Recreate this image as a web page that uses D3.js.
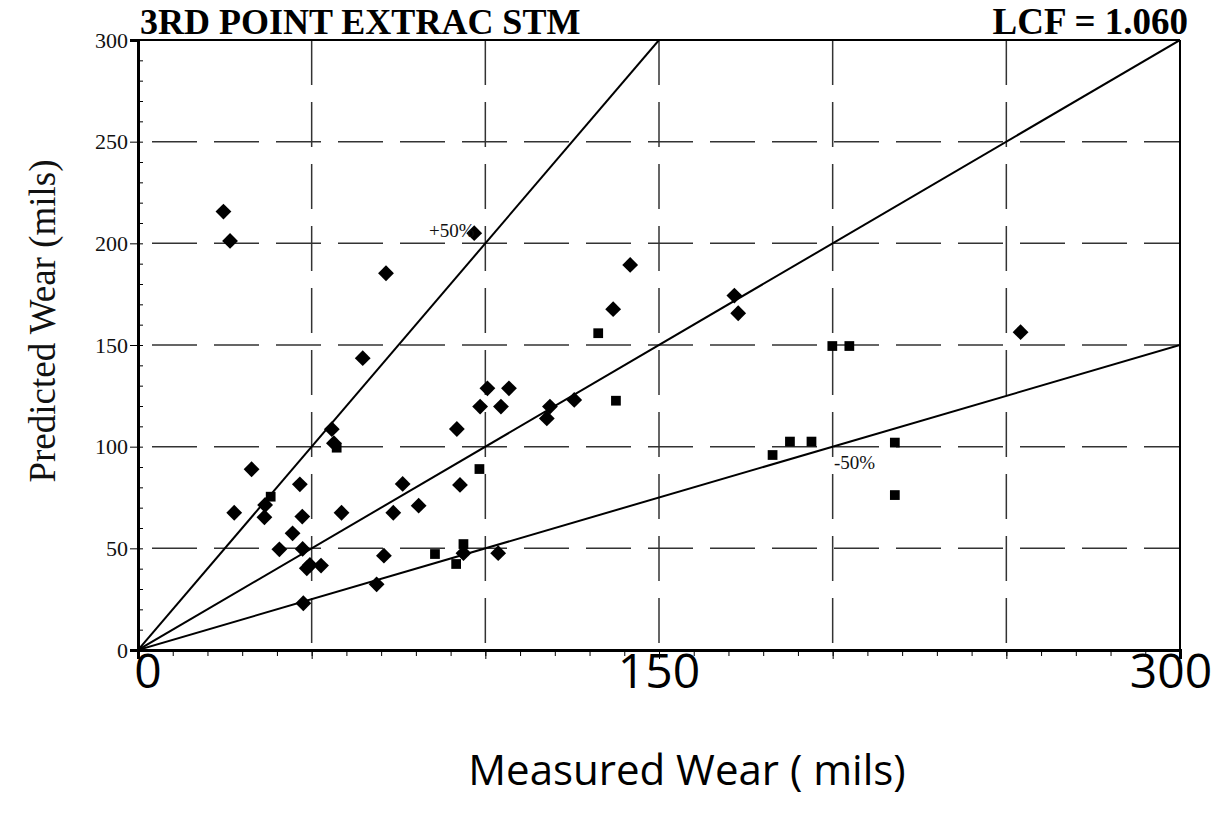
<!DOCTYPE html>
<html>
<head>
<meta charset="utf-8">
<title>3RD POINT EXTRAC STM</title>
<script src="https://d3js.org/d3.v7.min.js"></script>
<style>
  body { margin: 0; background: #fff; }
  svg { display: block; }
  .serif { font-family: 'Liberation Serif', 'Times New Roman', serif; }
  .sans { font-family: 'Open Sans', 'Noto Sans', sans-serif; }
</style>
</head>
<body>
<svg id="chart"></svg>
<script>
// measured / predicted wear (mils)
var diamondMeasured = [24.6, 26.5, 27.7, 32.7, 36.4, 36.6, 40.7, 44.5, 46.6, 47.3, 47.4, 47.6, 48.6, 49.5, 52.7,
                       55.8, 56.4, 58.6, 64.7, 68.7, 70.8, 71.4, 73.5, 76.2, 80.8, 91.8, 92.7, 93.7, 96.8, 98.5,
                       100.6, 103.7, 104.5, 106.8, 117.7, 118.6, 125.6, 136.8, 141.7, 171.7, 172.8, 254.1];
var diamondPredicted = [215.6, 201.2, 67.5, 88.9, 65.3, 71.3, 49.5, 57.4, 81.5, 65.6, 49.7, 23.0, 40.2, 41.8, 41.5,
                        108.6, 101.7, 67.5, 143.5, 32.3, 46.4, 185.3, 67.5, 81.7, 71.0, 108.7, 81.2, 47.6, 205.0, 119.7,
                        128.7, 47.6, 119.7, 128.7, 113.9, 119.7, 123.0, 167.6, 189.4, 174.3, 165.6, 156.3];

var squareMeasured = [38.2, 57.2, 85.5, 91.6, 93.7, 98.3, 132.5, 137.6, 182.7, 187.7, 193.9, 199.9, 204.8, 217.9, 217.9];
var squarePredicted = [75.4, 99.5, 47.2, 42.3, 52.1, 89.0, 155.8, 122.6, 95.9, 102.5, 102.5, 149.5, 149.5, 102.0, 76.2];

// reference lines: predicted = ratio * measured
var refLines = [
  { name: "+50%", ratio: 2.0 },
  { name: "0%", ratio: 1.0 },
  { name: "-50%", ratio: 0.5 }
];

var majorTicks = [0, 50, 100, 150, 200, 250, 300];
var gridValues = [50, 100, 150, 200, 250];
var bigXLabels = [0, 150, 300];

var width = 1217, height = 817;
var plotLeft = 138, plotRight = 1180, plotTop = 40, plotBottom = 650;

var svg = d3.select("#chart").attr("width", width).attr("height", height);

var x = d3.scaleLinear().domain([0, 300]).range([plotLeft, plotRight]);
var y = d3.scaleLinear().domain([0, 300]).range([plotBottom, plotTop]);

// dashed grid
svg.append("g").selectAll("line")
  .data(gridValues).enter().append("line")
  .attr("x1", plotLeft).attr("x2", plotRight)
  .attr("y1", function (d) { return y(d); })
  .attr("y2", function (d) { return y(d); })
  .attr("stroke", "#333").attr("stroke-width", 1.5)
  .attr("stroke-dasharray", "45,17").attr("stroke-dashoffset", 48);

svg.append("g").selectAll("line")
  .data(gridValues).enter().append("line")
  .attr("y1", plotTop).attr("y2", plotBottom)
  .attr("x1", function (d) { return x(d); })
  .attr("x2", function (d) { return x(d); })
  .attr("stroke", "#333").attr("stroke-width", 1.5)
  .attr("stroke-dasharray", "45,17");

// frame top and right
svg.append("line").attr("x1", plotLeft).attr("x2", plotRight).attr("y1", plotTop).attr("y2", plotTop)
  .attr("stroke", "#000").attr("stroke-width", 2);
svg.append("line").attr("x1", plotRight).attr("x2", plotRight).attr("y1", plotTop).attr("y2", plotBottom)
  .attr("stroke", "#000").attr("stroke-width", 2);

// reference lines, clipped to the plot
svg.append("clipPath").attr("id", "plotclip")
  .append("rect").attr("x", plotLeft).attr("y", plotTop)
  .attr("width", plotRight - plotLeft).attr("height", plotBottom - plotTop);

svg.append("g").attr("clip-path", "url(#plotclip)")
  .selectAll("line").data(refLines).enter().append("line")
  .attr("x1", x(0)).attr("y1", y(0))
  .attr("x2", function (d) { return x(Math.min(300, 300 / d.ratio)); })
  .attr("y2", function (d) { return y(Math.min(300, 300 * d.ratio)); })
  .attr("stroke", "#000").attr("stroke-width", 2);

// axes
var yAxis = d3.axisLeft(y).tickValues(majorTicks).tickSize(8).tickPadding(2);
var gy = svg.append("g").attr("transform", "translate(" + plotLeft + ",0)").call(yAxis);
gy.attr("font-family", null).attr("font-size", null);
gy.selectAll("text").attr("class", "serif").style("font-size", "22px").attr("fill", "#111");
gy.select(".domain").attr("stroke-width", 3);

var yMinor = d3.axisRight(y).ticks(30).tickSize(5).tickFormat("");
var gym = svg.append("g").attr("transform", "translate(" + plotLeft + ",0)").call(yMinor);
gym.select(".domain").remove();

var xAxis = d3.axisBottom(x).tickValues(majorTicks).tickSize(9).tickFormat("");
var gx = svg.append("g").attr("transform", "translate(0," + plotBottom + ")").call(xAxis);
gx.select(".domain").attr("stroke-width", 3);

var xMinor = d3.axisBottom(x).ticks(30).tickSize(6).tickFormat("");
var gxm = svg.append("g").attr("transform", "translate(0," + plotBottom + ")").call(xMinor);
gxm.select(".domain").remove();

// markers
var diamonds = d3.range(diamondMeasured.length).map(function (i) {
  return { m: diamondMeasured[i], p: diamondPredicted[i] };
});
var squares = d3.range(squareMeasured.length).map(function (i) {
  return { m: squareMeasured[i], p: squarePredicted[i] };
});

svg.append("g").selectAll("path").data(diamonds).enter().append("path")
  .attr("d", d3.symbol().type(d3.symbolSquare).size(125))
  .attr("transform", function (d) { return "translate(" + x(d.m) + "," + y(d.p) + ") rotate(45)"; })
  .attr("fill", "#000");

svg.append("g").selectAll("path").data(squares).enter().append("path")
  .attr("d", d3.symbol().type(d3.symbolSquare).size(95))
  .attr("transform", function (d) { return "translate(" + x(d.m) + "," + y(d.p) + ")"; })
  .attr("fill", "#000");

// line labels
svg.append("text").attr("class", "serif").attr("x", 429).attr("y", 237).text("+50%")
  .style("font-size", "19px").attr("fill", "#111");
svg.append("text").attr("class", "serif").attr("x", 834).attr("y", 469).text("-50%")
  .style("font-size", "19px").attr("fill", "#111");

// titles
svg.append("text").attr("class", "serif").attr("x", 140).attr("y", 34).text("3RD POINT EXTRAC STM")
  .style("font-weight", "bold").style("font-size", "36px");
svg.append("text").attr("class", "serif").attr("x", 1188).attr("y", 34).attr("text-anchor", "end")
  .text("LCF = 1.060")
  .style("font-weight", "bold").style("font-size", "37px");

svg.append("text").attr("class", "serif")
  .attr("transform", "translate(55,321) rotate(-90)")
  .attr("text-anchor", "middle").text("Predicted Wear (mils)")
  .style("font-size", "37px").attr("fill", "#111");

// big x labels
svg.append("g").selectAll("text").data(bigXLabels).enter().append("text")
  .attr("class", "sans")
  .attr("x", function (d, i) { return x(d) + (i === 0 ? 10 : (i === bigXLabels.length - 1 ? -9 : 0)); })
  .attr("y", 688)
  .attr("text-anchor", "middle")
  .style("font-size", "48px")
  .text(function (d) { return d; });

svg.append("text").attr("class", "sans").attr("x", 687).attr("y", 785).attr("text-anchor", "middle")
  .text("Measured Wear ( mils)")
  .style("font-size", "42px");
</script>
</body>
</html>
